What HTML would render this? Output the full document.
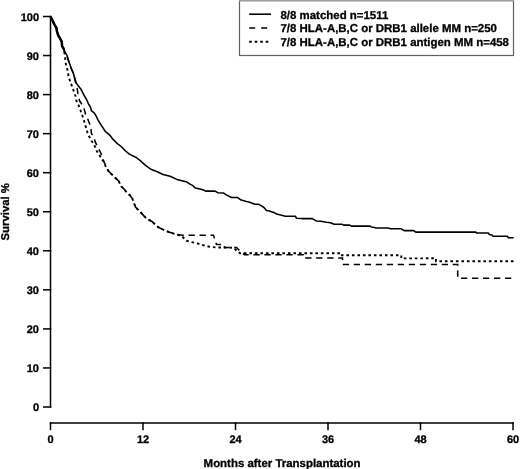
<!DOCTYPE html>
<html><head><meta charset="utf-8"><style>
html,body{margin:0;padding:0;background:#fff;width:520px;height:469px;overflow:hidden}
svg{display:block;will-change:transform}
text{text-rendering:geometricPrecision}
</style></head><body>
<svg width="520" height="469" viewBox="0 0 520 469">
<rect width="520" height="469" fill="#fff"/>
<g stroke="#000" stroke-width="1.5" fill="none" stroke-linecap="butt">
<line x1="50.5" y1="15.75" x2="50.5" y2="407.75"/>
<line x1="43" y1="16.50" x2="51.3" y2="16.50"/>
<line x1="43" y1="55.55" x2="51.3" y2="55.55"/>
<line x1="43" y1="94.60" x2="51.3" y2="94.60"/>
<line x1="43" y1="133.65" x2="51.3" y2="133.65"/>
<line x1="43" y1="172.70" x2="51.3" y2="172.70"/>
<line x1="43" y1="211.75" x2="51.3" y2="211.75"/>
<line x1="43" y1="250.80" x2="51.3" y2="250.80"/>
<line x1="43" y1="289.85" x2="51.3" y2="289.85"/>
<line x1="43" y1="328.90" x2="51.3" y2="328.90"/>
<line x1="43" y1="367.95" x2="51.3" y2="367.95"/>
<line x1="43" y1="407.00" x2="51.3" y2="407.00"/>
<line x1="49.75" y1="423.0" x2="513.75" y2="423.0"/>
<line x1="50.50" y1="422.25" x2="50.50" y2="430.2"/>
<line x1="143.00" y1="422.25" x2="143.00" y2="430.2"/>
<line x1="235.50" y1="422.25" x2="235.50" y2="430.2"/>
<line x1="328.00" y1="422.25" x2="328.00" y2="430.2"/>
<line x1="420.50" y1="422.25" x2="420.50" y2="430.2"/>
<line x1="513.00" y1="422.25" x2="513.00" y2="430.2"/>
</g>
<g font-family='"Liberation Sans", sans-serif' font-weight="bold" font-size="11" fill="#000" stroke="#000" stroke-width="0.3">
<text x="39" y="20.90" text-anchor="end">100</text>
<text x="39" y="59.95" text-anchor="end">90</text>
<text x="39" y="99.00" text-anchor="end">80</text>
<text x="39" y="138.05" text-anchor="end">70</text>
<text x="39" y="177.10" text-anchor="end">60</text>
<text x="39" y="216.15" text-anchor="end">50</text>
<text x="39" y="255.20" text-anchor="end">40</text>
<text x="39" y="294.25" text-anchor="end">30</text>
<text x="39" y="333.30" text-anchor="end">20</text>
<text x="39" y="372.35" text-anchor="end">10</text>
<text x="39" y="411.40" text-anchor="end">0</text>
<text x="50.50" y="443.2" text-anchor="middle">0</text>
<text x="143.00" y="443.2" text-anchor="middle">12</text>
<text x="235.50" y="443.2" text-anchor="middle">24</text>
<text x="328.00" y="443.2" text-anchor="middle">36</text>
<text x="420.50" y="443.2" text-anchor="middle">48</text>
<text x="513.00" y="443.2" text-anchor="middle">60</text>
</g>
<text x="282.1" y="466.9" text-anchor="middle" font-family='"Liberation Sans", sans-serif' font-weight="bold" font-size="11.45" stroke="#000" stroke-width="0.3">Months after Transplantation</text>
<text transform="translate(9.3,211.8) rotate(-90)" text-anchor="middle" font-family='"Liberation Sans", sans-serif' font-weight="bold" font-size="11.35" stroke="#000" stroke-width="0.3">Survival %</text>
<polyline points="50.5,16.5 52.3,20.0 54.5,24.6 56.4,27.8 57.0,31.6 58.3,35.5 60.2,38.7 61.8,41.9 62.0,45.8 63.8,49.0 65.0,52.2 67.0,55.4 68.2,59.9 70.1,65.0 71.4,68.8 73.3,73.3 75.2,79.7 76.2,82.9 78.4,86.1 81.0,89.3 83.6,94.4 86.8,100.0 88.4,103.8 90.4,107.0 91.6,110.9 94.2,112.8 96.1,116.0 98.0,119.8 100.6,124.3 103.2,128.2 105.5,131.7 109.7,135.1 113.1,139.4 117.4,143.6 121.7,147.0 125.0,150.5 129.3,154.1 136.2,157.5 140.0,160.4 145.8,165.6 151.5,169.6 157.3,171.7 163.1,174.5 170.0,176.3 176.9,179.4 186.2,181.7 190.0,184.1 192.6,185.4 195.2,188.0 198.7,188.8 203.0,189.7 205.6,191.1 215.1,191.1 217.7,192.7 223.7,193.1 226.3,194.9 231.5,197.5 237.7,197.6 241.2,200.1 246.5,201.6 248.8,202.0 255.0,204.3 258.8,204.3 262.7,206.6 264.6,208.2 266.5,210.6 268.8,210.8 272.7,212.2 273.8,212.3 276.7,214.1 280.6,215.1 285.4,216.3 295.5,216.3 296.4,218.2 301.7,218.6 312.3,218.6 316.2,220.9 320.8,221.3 326.5,222.2 330.4,222.7 334.2,224.3 341.9,224.3 343.8,225.1 349.6,225.1 351.5,226.1 369.8,226.0 371.3,226.9 374.5,227.4 375.6,227.9 388.3,227.9 390.4,228.8 401.0,228.8 404.2,230.6 413.7,230.6 415.8,232.1 475.8,232.1 476.6,233.0 488.3,233.0 489.3,234.5 492.0,235.0 493.0,236.2 507.3,236.2 508.4,237.7 513.7,237.7" fill="none" stroke="#000" stroke-width="1.55" stroke-linejoin="round"/>
<polyline points="50.5,16.5 52.3,20.0 54.5,24.6 56.4,27.8 57.0,31.6 58.3,35.5 60.2,38.7 61.8,41.9 62.0,45.8 63.8,49.0" fill="none" stroke="#000" stroke-width="2.5" stroke-linejoin="round"/>
<polyline points="50.5,16.5 52.3,20.0 54.5,24.6 56.4,27.8 57.0,31.6 58.3,35.5 60.2,38.7 61.8,41.9 62.0,45.8 63.8,49.0 64.4,52.2 66.9,55.6 69.1,62.4 71.6,69.2 73.1,72.8 75.6,82.2 77.3,89.0 77.8,93.2 79.5,100.6 83.3,106.4 84.0,108.3 85.6,114.4 86.8,116.3 88.8,121.8 90.0,124.6 91.0,129.4 91.4,133.4 94.4,138.5 95.2,141.9 97.8,147.0 101.2,153.9 102.0,157.3 104.2,162.4 107.2,168.4 108.5,171.1 111.9,174.5 115.3,177.9 118.8,181.3 121.3,186.4 124.7,189.8 127.3,193.2 129.8,195.0 132.4,198.8 135.5,207.1 140.8,212.4 146.1,218.3 152.0,221.5 158.1,227.1 164.8,230.5 170.2,232.5 176.9,234.5 182.3,235.2 213.5,235.2 216.5,244.5 224.0,244.5 224.5,247.5 236.5,247.5 239.5,250.5 242.0,252.5 244.5,254.8 303.3,254.8 303.3,258.0 342.5,258.0 342.5,264.4 457.7,264.4 457.7,278.2 513.0,278.2" fill="none" stroke="#000" stroke-width="1.55" stroke-dasharray="6.3,4.7"/>
<polyline points="50.5,16.5 52.3,20.0 54.5,24.6 56.4,27.8 57.0,31.6 58.3,35.5 60.2,38.7 61.8,41.9 62.0,45.8 63.8,49.0 64.4,52.2 65.0,57.3 65.7,62.4 66.3,66.8 68.0,71.1 68.4,75.8 69.7,80.0 71.0,83.9 72.7,87.7 73.9,92.0 75.6,96.2 76.3,100.6 78.2,104.5 79.8,108.0 81.1,112.2 82.7,116.6 84.0,120.5 84.9,124.6 86.5,128.5 87.5,133.0 89.3,136.8 91.4,140.7 93.5,143.6 95.2,147.0 96.9,151.3 99.1,154.7 101.2,158.1 103.4,161.3 105.1,165.1 106.8,168.5 108.5,171.1 111.9,174.5 115.3,177.9 118.8,181.3 121.3,186.4 124.7,189.8 127.3,193.2 129.8,195.0 132.4,198.8 135.5,207.1 140.8,212.4 146.1,218.3 152.0,221.5 158.1,227.1 164.8,230.5 170.2,232.5 176.9,234.5 182.3,236.5 186.3,240.6 190.4,241.9 197.1,243.3 203.8,245.3 210.6,247.0 217.3,247.5 233.0,247.7 236.0,250.0 240.0,253.3 340.8,253.3 340.8,255.3 401.3,255.3 401.3,258.4 436.0,258.3 436.0,261.2 513.5,261.2" fill="none" stroke="#000" stroke-width="1.9" stroke-dasharray="2.6,2.9"/>
<rect x="239.5" y="0.5" width="274" height="55" fill="#fff" stroke="#606060" stroke-width="1.2"/>
<line x1="238.9" y1="0.75" x2="514.1" y2="0.75" stroke="#a0a0a0" stroke-width="1.5"/>
<line x1="249.2" y1="14.2" x2="271" y2="14.2" stroke="#000" stroke-width="1.55"/>
<line x1="249.2" y1="28.0" x2="271" y2="28.0" stroke="#000" stroke-width="1.55" stroke-dasharray="6,6"/>
<line x1="249.2" y1="41.8" x2="271" y2="41.8" stroke="#000" stroke-width="1.9" stroke-dasharray="2.6,2.9"/>
<g font-family='"Liberation Sans", sans-serif' font-weight="bold" font-size="11.45" fill="#000" stroke="#000" stroke-width="0.3">
<text x="280.5" y="18.7">8/8 matched n=1511</text>
<text x="280.5" y="32.4">7/8 HLA-A,B,C or DRB1 allele MM n=250</text>
<text x="280.5" y="46.1">7/8 HLA-A,B,C or DRB1 antigen MM n=458</text>
</g>
</svg>
</body></html>
